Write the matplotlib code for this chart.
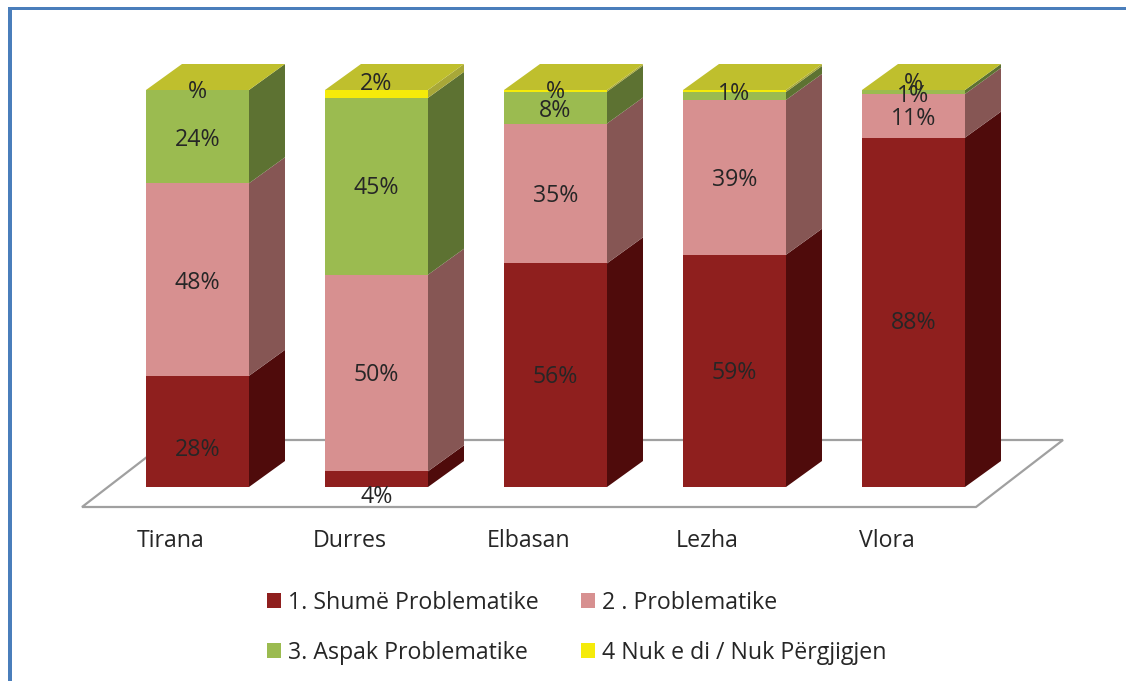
import numpy as np
import matplotlib
matplotlib.use("Agg")
import matplotlib.pyplot as plt
from matplotlib.patches import Polygon, Rectangle

plt.rcParams['font.family'] = ['Open Sans', 'DejaVu Sans']

cities = ["Tirana", "Durres", "Elbasan", "Lezha", "Vlora"]
series_names = ["1. Shumë Problematike", "2 . Problematike", "3. Aspak Problematike", "4 Nuk e di / Nuk Përgjigjen"]

shume = [28, 4, 56, 58.5, 88]
problematike = [48.5, 50, 35, 39, 11]
aspak = [23.5, 45, 8, 2, 1]
nuk_di = [0, 2, 0.4, 0.5, 0]

# labels as printed on the chart, some lost their number
shume_lbl = ["28%", "4%", "56%", "59%", "88%"]
problematike_lbl = ["48%", "50%", "35%", "39%", "11%"]
aspak_lbl = ["24%", "45%", "8%", "", "1%"]
nuk_di_lbl = ["%", "2%", "%", "1%", "%"]

front_cols = ["#8F1F1E", "#D79090", "#9BBB50", "#F5EB0A"]
side_cols = ["#4F0B0B", "#865654", "#5D7232", "#A8A838"]
top_col = "#BFBF2D"
frame_col = "#4A7EBB"

# label heights, the original labels were moved by hand
shume_y = [9.2, -2.4, 27.8, 28.8, 41.2]
problematike_y = [51.5, 28.1, 73.2, 77.4, 92.8]
aspak_y = [87.5, 75.2, 94.6, 0, 98.6]
nuk_di_y = [99.6, 101.4, 99.6, 99.1, 101.6]

PX_X = 179.0   # pixels per category
PX_Y = 3.97    # pixels per percent
BAR_W = 103 / PX_X
DX = 36 / PX_X
DY = 26 / PX_Y
FS = 16.7

fig = plt.figure(figsize=(11.26, 6.81), dpi=100)
ax = fig.add_axes([0, 0, 1, 1])
ax.set_xlim(-197.5 / PX_X, (1126 - 197.5) / PX_X)
ax.set_ylim((487 - 681) / PX_Y, 487 / PX_Y)
ax.axis("off")


def px(x, y):
    return (x - 197.5) / PX_X, (487 - y) / PX_Y


# blue frame, only top and left are visible
ax.add_patch(Rectangle(px(8, 681), 4 / PX_X, 674 / PX_Y, color=frame_col, lw=0, zorder=1))
ax.add_patch(Rectangle(px(8, 10), 1118 / PX_X, 3 / PX_Y, color=frame_col, lw=0, zorder=1))

# floor
floor = [px(82, 507), px(976, 507), px(1063, 440), px(169, 440)]
ax.add_patch(Polygon(floor, closed=True, fc="white", ec="#A0A0A0", lw=1.6, zorder=1))

data = np.array([shume, problematike, aspak, nuk_di], dtype=float)
shares = data / data.sum(axis=0) * 100
x = np.arange(len(cities))

bottom = np.zeros(len(cities))
handles = []
for s in range(4):
    bars = ax.bar(x, shares[s], BAR_W, bottom=bottom, color=front_cols[s], lw=0, zorder=3)
    handles.append(bars[0])
    for i in range(len(cities)):
        r = x[i] + BAR_W / 2
        y0 = bottom[i]
        y1 = bottom[i] + shares[s][i]
        if y1 > y0:
            side = [(r, y0), (r + DX, y0 + DY), (r + DX, y1 + DY), (r, y1)]
            ax.add_patch(Polygon(side, closed=True, fc=side_cols[s], lw=0, zorder=3))
    bottom += shares[s]

for i in range(len(cities)):
    l = x[i] - BAR_W / 2
    r = x[i] + BAR_W / 2
    top = [(l, 100), (r, 100), (r + DX, 100 + DY), (l + DX, 100 + DY)]
    ax.add_patch(Polygon(top, closed=True, fc=top_col, lw=0, zorder=3))

all_lbl = [shume_lbl, problematike_lbl, aspak_lbl, nuk_di_lbl]
all_y = [shume_y, problematike_y, aspak_y, nuk_di_y]
for s in range(4):
    for i in range(len(cities)):
        if all_lbl[s][i]:
            ax.text(x[i], all_y[s][i], all_lbl[s][i], ha="center", va="center",
                    fontsize=FS, color="#262626", zorder=5)

for i, c in enumerate(cities):
    ax.text(i - 0.15, px(0, 541)[1], c, ha="center", va="center", fontsize=FS, color="#262626")

order = [0, 2, 1, 3]
ax.legend([handles[k] for k in order], [series_names[k] for k in order], ncol=2,
          loc="upper left", bbox_to_anchor=(267 / 1126, 1 - 591 / 681), frameon=False,
          fontsize=FS, labelcolor="#262626", handlelength=0.61, handleheight=0.61,
          handletextpad=0.3, columnspacing=1.83, labelspacing=1.1, borderpad=0, borderaxespad=0)

fig.savefig("out.png", dpi=100)
